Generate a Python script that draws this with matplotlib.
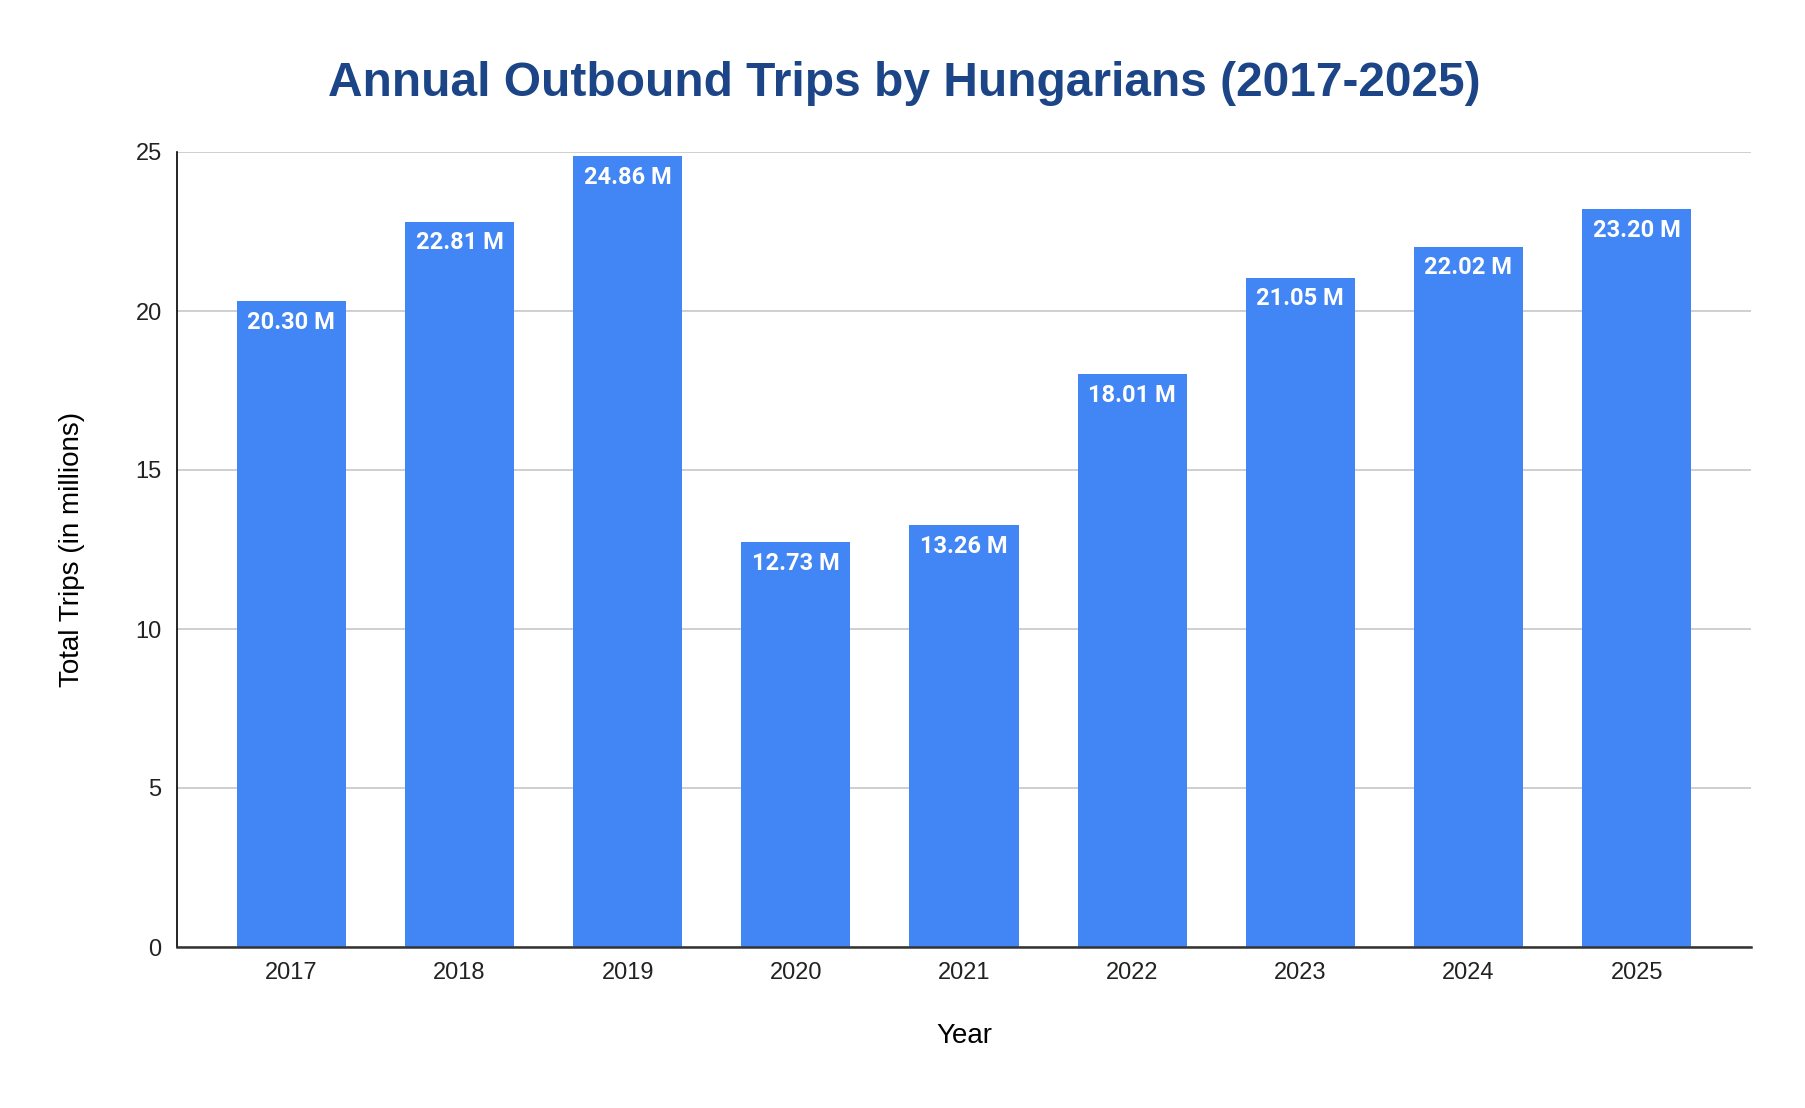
import matplotlib.pyplot as plt

# Datos
years = ['2017', '2018', '2019', '2020', '2021', '2022', '2023', '2024', '2025']
trips = [20.30, 22.81, 24.86, 12.73, 13.26, 18.01, 21.05, 22.02, 23.20]
y_ticks = [0, 5, 10, 15, 20, 25]

plt.rcParams['font.family'] = ['Liberation Sans', 'DejaVu Sans']

fig = plt.figure(figsize=(18.06, 11.08), dpi=100)
ax = fig.add_axes([177 / 1806, 1 - 947 / 1108, (1751 - 177) / 1806, (947 - 152) / 1108])

x = range(len(years))
bars = ax.bar(x, trips, width=0.65, color='#4285F4', zorder=3)

# Etiquetas dentro de las barras
for rect, v in zip(bars, trips):
    ax.annotate(f'{v:.2f} M', (rect.get_x() + rect.get_width() / 2, v),
                xytext=(0, -7), textcoords='offset points', ha='center', va='top',
                color='white', fontsize=17, fontweight='bold', family=['Roboto', 'DejaVu Sans'])

ax.set_xlim(-0.68, len(years) - 0.32)
ax.set_ylim(0, 25)
ax.set_xticks(list(x))
ax.set_xticklabels(years)
ax.set_yticks(y_ticks)
ax.tick_params(axis='both', length=0, labelsize=17, colors='#222222')
ax.tick_params(axis='x', pad=11)
ax.tick_params(axis='y', pad=11)

ax.grid(axis='y', color='#cccccc', linewidth=1.3, zorder=0)
for s in ['top', 'right']:
    ax.spines[s].set_visible(False)
ax.spines['left'].set_color('#000000')
ax.spines['left'].set_linewidth(1.2)
ax.spines['bottom'].set_color('#333333')
ax.spines['bottom'].set_linewidth(1.8)
ax.spines['bottom'].set_zorder(4)

ax.set_xlabel('Year', fontsize=20, labelpad=28)
ax.set_ylabel('Total Trips (in millions)', fontsize=20, labelpad=36)

fig.suptitle('Annual Outbound Trips by Hungarians (2017-2025)', x=0.501, y=1 - 83 / 1108,
             va='center', fontsize=34.5, fontweight='bold', color='#1C4587')

fig.savefig('out.png', dpi=100)
